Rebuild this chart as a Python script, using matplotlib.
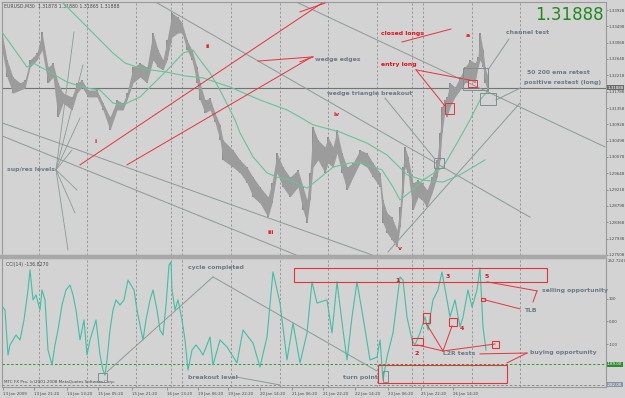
import matplotlib
matplotlib.use('Agg')
import matplotlib.pyplot as plt
from matplotlib.patches import Rectangle

# ---------------- data (bar index ~ 30-minute bars, price) ----------------
bar_x = [2, 7, 13, 20, 25, 30, 37, 42, 48, 53, 58, 63, 72, 77, 82, 88, 97, 103, 110, 117,
         123, 127, 133, 140, 147, 153, 158, 163, 167, 172, 178, 182, 187, 192, 197, 200, 205,
         210, 215, 220, 223, 233, 240, 247, 253, 260, 268, 272, 277, 283, 290, 298, 303, 307,
         310, 313, 318, 325, 328, 333, 337, 342, 347, 353, 360, 367, 373, 380, 383, 387, 392,
         397, 400, 403, 405, 408, 413, 418, 422, 427, 432, 437, 440, 442, 445, 447, 450, 455,
         460, 465, 470, 475, 478, 480, 483, 485, 488]
price_hi = [1.3333, 1.3262, 1.3217, 1.3202, 1.3209, 1.3262, 1.3280, 1.3335, 1.3243, 1.3254,
            1.3202, 1.3175, 1.3165, 1.3202, 1.3209, 1.3183, 1.3183, 1.3149, 1.3112, 1.3157,
            1.3149, 1.3175, 1.3243, 1.3254, 1.3243, 1.3333, 1.3288, 1.3262, 1.3314, 1.3385,
            1.3374, 1.3359, 1.3314, 1.3288, 1.3243, 1.3202, 1.3157, 1.3162, 1.3123, 1.3092,
            1.3052, 1.3026, 1.3000, 1.2981, 1.2955, 1.2929, 1.2903, 1.2940, 1.3018, 1.2981,
            1.2955, 1.2974, 1.2929, 1.2895, 1.2966, 1.3086, 1.3052, 1.3034, 1.3060, 1.3034,
            1.3078, 1.3018, 1.2981, 1.2992, 1.3026, 1.3018, 1.2992, 1.2966, 1.2895, 1.2861,
            1.2850, 1.2816, 1.2877, 1.2981, 1.3034, 1.3008, 1.2940, 1.2947, 1.2940, 1.2921,
            1.2955, 1.3000, 1.3071, 1.3139, 1.3157, 1.3165, 1.3202, 1.3191, 1.3217, 1.3243,
            1.3262, 1.3254, 1.3270, 1.3333, 1.3288, 1.3243, 1.3217]
price_lo = [1.3288, 1.3217, 1.3175, 1.3183, 1.3188, 1.3243, 1.3262, 1.3288, 1.3202, 1.3217,
            1.3112, 1.3149, 1.3131, 1.3175, 1.3191, 1.3165, 1.3165, 1.3131, 1.3078, 1.3131,
            1.3131, 1.3157, 1.3202, 1.3217, 1.3202, 1.3262, 1.3243, 1.3236, 1.3262, 1.3322,
            1.3333, 1.3333, 1.3288, 1.3262, 1.3202, 1.3157, 1.3123, 1.3131, 1.3099, 1.3052,
            1.3000, 1.2981, 1.2966, 1.2940, 1.2903, 1.2887, 1.2850, 1.2887, 1.2966, 1.2929,
            1.2903, 1.2929, 1.2869, 1.2835, 1.2895, 1.2981, 1.3000, 1.2966, 1.2992, 1.2981,
            1.3018, 1.2966, 1.2921, 1.2955, 1.2992, 1.2981, 1.2955, 1.2929, 1.2835, 1.2809,
            1.2790, 1.2772, 1.2824, 1.2913, 1.2981, 1.2966, 1.2869, 1.2903, 1.2895, 1.2877,
            1.2913, 1.2955, 1.3000, 1.3071, 1.3131, 1.3112, 1.3139, 1.3165, 1.3183, 1.3202,
            1.3209, 1.3202, 1.3243, 1.3262, 1.3243, 1.3202, 1.3178]

ema_fast_x = [2, 10, 27, 33, 50, 67, 87, 100, 113, 123, 140, 157, 170, 183, 193, 200, 210, 220,
              230, 235, 240, 253, 267, 277, 290, 307, 320, 333, 350, 363, 373, 382, 393, 400,
              410, 423, 443, 457, 470, 480, 487]
ema_fast = [1.3335, 1.3306, 1.3243, 1.3254, 1.3230, 1.3204, 1.3188, 1.3183, 1.3149, 1.3144,
            1.3165, 1.3209, 1.3243, 1.3280, 1.3288, 1.3262, 1.3228, 1.3183, 1.3131, 1.3105,
            1.3071, 1.3008, 1.2966, 1.2955, 1.2947, 1.2926, 1.2953, 1.2981, 1.2992, 1.2992,
            1.2981, 1.2974, 1.2929, 1.2895, 1.2916, 1.2947, 1.2981, 1.3044, 1.3105, 1.3157,
            1.3178]
ema_slow_x = [62, 80, 100, 113, 125, 137, 150, 167, 185, 203, 230, 260, 287, 300, 313, 340,
              367, 387, 407, 423, 443, 460, 485]
ema_slow = [1.3414, 1.3367, 1.3314, 1.3280, 1.3254, 1.3243, 1.3236, 1.3230, 1.3220, 1.3215,
            1.3191, 1.3157, 1.3131, 1.3112, 1.3092, 1.3073, 1.3044, 1.3013, 1.2961, 1.2947,
            1.2942, 1.2961, 1.3000]

cci_x = [2, 5, 8, 10, 13, 16, 20, 24, 28, 30, 33, 36, 40, 42, 45, 48, 52, 55, 58, 62, 66, 70,
         73, 76, 80, 84, 87, 90, 93, 96, 100, 103, 105, 107, 110, 113, 116, 120, 124, 128, 131,
         134, 137, 140, 143, 146, 150, 153, 157, 160, 163, 166, 169, 171, 172, 175, 178, 182,
         185, 188, 192, 196, 200, 203, 210, 213, 220, 227, 237, 243, 253, 260, 267, 273, 280,
         287, 293, 300, 307, 312, 317, 327, 332, 337, 343, 347, 352, 357, 363, 370, 377, 380,
         383, 387, 393, 400, 403, 407, 412, 415, 420, 425, 428, 433, 438, 442, 447, 450, 455,
         460, 463, 468, 472, 477, 480, 483, 486]
cci_vals = [69, 51, -149, -104, -82, -60, -82, 7, 140, 229, 96, 118, 51, 140, 96, -127, -193,
            -104, -38, 73, 140, 162, 118, 51, -82, 7, -149, -82, -38, 7, -149, -216, -238, -171,
            -38, 51, 96, 73, 96, 184, 162, 140, 51, -16, -82, 7, 96, 140, 51, -38, -60, 73, 251,
            264, 140, 51, 96, 7, -82, -216, -127, -104, -127, -149, -69, -193, -82, -113, -184,
            -38, -96, -202, -69, 220, 82, -171, -7, -184, -51, 176, 82, 96, -51, 176, -38, -171,
            20, 176, 20, -171, -158, -82, -260, -158, -51, 198, 184, 20, -82, -104, -51, 20, -38,
            96, 140, 220, 96, 20, 96, -24, 20, 140, 64, 140, 238, -24, -127]

price_ticks = [1.33928, 1.33498, 1.33068, 1.32648, 1.32218, 1.31788, 1.31358, 1.30928,
               1.30498, 1.30078, 1.29648, 1.29218, 1.28798, 1.28368, 1.27938, 1.27508]
bid_price = 1.31888
cci_ticks = [100, 0, -100]
cci_tick_labels = ['100', '0.00', '-100']
cci_levels = [-189, -282]

time_pos = [3, 34, 67, 98, 132, 167, 198, 228, 260, 292, 323, 355, 388, 421, 453]
time_labels = ['13 Jan 2009', '13 Jan 21:20', '14 Jan 13:20', '15 Jan 05:20', '15 Jan 21:20',
               '16 Jan 13:20', '19 Jan 06:20', '19 Jan 22:20', '20 Jan 14:20', '21 Jan 06:20',
               '21 Jan 22:20', '22 Jan 14:20', '23 Jan 06:20', '25 Jan 22:20', '26 Jan 14:20']
day_separators = [39, 87, 136, 171, 182, 231, 280, 328, 377, 412, 423, 472, 520]

# user-drawn objects (bar, price)
gray_trendlines = [((152, 1.3419), (530, 1.2850)), ((292, 1.3419), (605, 1.3034)),
                   ((0, 1.3099), (372, 1.2751)), ((0, 1.3065), (296, 1.2751)),
                   ((388, 1.2759), (520, 1.3149)),
                   ((385, 1.3162), (434, 1.3005)), ((509, 1.3317), (488, 1.3236)),
                   ((496, 1.3157), (520, 1.3188))]
supres_origin = (56, 1.2974)
supres_targets = [(74, 1.3335), (83, 1.3249), (80, 1.3110), (72, 1.3026), (77, 1.2921),
                  (75, 1.2861), (68, 1.2764)]
red_trendlines = [((80, 1.2987), (322, 1.3411)), ((127, 1.2987), (312, 1.3270)),
                  ((258, 1.3259), (313, 1.3270)), ((300, 1.3257), (313, 1.3270)),
                  ((300, 1.3388), (325, 1.3411)),
                  ((402, 1.3309), (451, 1.3343)),
                  ((416, 1.3236), (470, 1.3209)), ((416, 1.3236), (445, 1.3141))]
red_boxes = [((445, 1.3120), (454, 1.3149)), ((468, 1.3191), (477, 1.3209))]
gray_boxes = [((463, 1.3183), (488, 1.3241)), ((480, 1.3144), (496, 1.3175)),
              ((434, 1.2979), (444, 1.3005))]
wave_labels = [('i', 96, 1.3047), ('ii', 208, 1.3296), ('iii', 271, 1.2811),
               ('iv', 337, 1.3118), ('v', 400, 1.2767), ('a', 468, 1.3325)]
red_notes = [('closed longs', 381, 1.3330), ('entry long', 381, 1.3251)]
gray_notes = [('wedge edges', 315, 1.3264), ('wedge triangle breakout', 327, 1.3175),
              ('sup/res levels', 7, 1.2976), ('channel test', 506, 1.3333),
              ('50 200 ema retest', 527, 1.3228), ('positive restest (long)', 524, 1.3204)]

cci_red_boxes = [((294, 176), (547, 238)), ((378, -273), (507, -193)),
                 ((412, -104), (423, -73)), ((423, -7), (430, 38)), ((449, -20), (457, 16)),
                 ((492, -118), (499, -87)), ((481, 91), (485, 104))]
cci_red_lines = [((443, -131), (417, -104)), ((443, -131), (426, -7)),
                 ((443, -131), (452, -20)), ((443, -131), (495, -100)),
                 ((485, 96), (520, 56)), ((487, 176), (537, 136)), ((537, 136), (533, 87)),
                 ((480, -144), (527, -140)), ((507, -184), (527, -140))]
cci_red_labels = [('1', 398, 180), ('3', 448, 198), ('5', 487, 198), ('2', 417, -144),
                  ('4', 462, -33)]
cci_gray_lines = [((107, -224), (213, 198)), ((213, 198), (377, -220)),
                  ((237, -247), (280, -282))]
cci_gray_boxes = [((98, -269), (107, -229)), ((383, -269), (388, -220))]
cci_gray_notes = [('cycle completed', 188, 238), ('breakout level', 188, -251),
                  ('turn point', 343, -247), ('L2R tests', 443, -144), ('TLB', 525, 51),
                  ('selling opportunity', 542, 136), ('buying opportunity', 530, -136)]

# ---------------- drawing ----------------
W, H = 625, 398
BG = '#d3d3d3'
GRID = '#8c8c8c'
LINE_GRAY = '#8b9b98'
NOTE_GRAY = '#6c7a88'
RED = '#e8323a'
TXT = '#4a4a4a'
SMALL = 2.9

fig = plt.figure(figsize=(W / 100, H / 100), dpi=100, facecolor=BG)


def frac(x0, y0, x1, y1):
    return [x0 / W, 1 - y1 / H, (x1 - x0) / W, (y1 - y0) / H]


ax = fig.add_axes(frac(2, 2, 606, 255))
ax2 = fig.add_axes(frac(2, 258, 606, 387))
for a in (ax, ax2):
    a.set_facecolor(BG)
    a.set_xlim(2, 606)
    for s in a.spines.values():
        s.set_color('#9a9a9a')
        s.set_linewidth(0.8)
    for x in day_separators:
        a.axvline(x, color=GRID, lw=0.6, ls=(0, (2.5, 2.5)), zorder=1)

ax.set_ylim(1.27509, 1.34138)
ax2.set_ylim(-291, 282)

fig.patches.append(Rectangle((0, 1 - 258 / H), 606 / W, 3 / H, transform=fig.transFigure,
                             color='#a8a8a8', zorder=0))

ax.yaxis.tick_right()
ax.set_yticks(price_ticks)
ax.set_yticklabels([f'{p:.5f}' for p in price_ticks], fontsize=SMALL, color=TXT)
ax.tick_params(axis='y', length=1.5, width=0.5, pad=0.5, colors='#777777', labelcolor=TXT)
ax.set_xticks([])

ax2.yaxis.tick_right()
ax2.set_yticks(cci_ticks)
ax2.set_yticklabels(cci_tick_labels, fontsize=SMALL, color=TXT)
ax2.tick_params(axis='y', length=1.5, width=0.5, pad=0.5, colors='#777777', labelcolor=TXT)
ax2.set_xticks(time_pos)
ax2.set_xticklabels(time_labels, fontsize=SMALL, color=TXT, ha='left')
ax2.tick_params(axis='x', length=2, width=0.5, pad=1.5, colors='#777777', labelcolor=TXT)

# price bars
ax.vlines(bar_x, price_lo, price_hi, color='#8e8e8e', lw=1.4, zorder=3)
ax.fill_between(bar_x, price_lo, price_hi, color='#9c9c9c', lw=0, zorder=3)

# EMAs
ax.plot(ema_fast_x, ema_fast, color='#68c39a', lw=0.8, zorder=4)
ax.plot(ema_slow_x, ema_slow, color='#68c39a', lw=0.8, zorder=4)

ax.axhline(bid_price, color='#6f7775', lw=0.8, zorder=2)

for (x0, y0), (x1, y1) in gray_trendlines:
    ax.plot([x0, x1], [y0, y1], color=LINE_GRAY, lw=0.7, zorder=2)
for tx, ty in supres_targets:
    ax.plot([supres_origin[0], tx], [supres_origin[1], ty], color=LINE_GRAY, lw=0.6, zorder=2)
for (x0, y0), (x1, y1) in red_trendlines:
    ax.plot([x0, x1], [y0, y1], color=RED, lw=0.7, zorder=5)
for (x0, y0), (x1, y1) in red_boxes:
    ax.add_patch(Rectangle((x0, y0), x1 - x0, y1 - y0, fill=False, ec=RED, lw=0.7, zorder=6))
for (x0, y0), (x1, y1) in gray_boxes:
    ax.add_patch(Rectangle((x0, y0), x1 - x0, y1 - y0, fill=False, ec='#7f8f8f', lw=0.7, zorder=6))

for t, x, y in wave_labels:
    ax.text(x, y, t, color='#e0141c', fontsize=4.5, fontweight='bold', ha='center', va='center', zorder=7)
for t, x, y in red_notes:
    ax.text(x, y, t, color='#e0141c', fontsize=4.4, fontweight='bold', ha='left', va='center', zorder=7)
for t, x, y in gray_notes:
    ax.text(x, y, t, color=NOTE_GRAY, fontsize=4.4, fontweight='bold', ha='left', va='center', zorder=7)

ax.text(0.004, 0.992, 'EURUSD,M30  1.31878 1.31880 1.31865 1.31888', transform=ax.transAxes,
        fontsize=3.3, color=TXT, va='top', ha='left')
ax.text(0.997, 0.985, '1.31888', transform=ax.transAxes, fontsize=12, color='#1e8a1e',
        va='top', ha='right')
ax.text(1.002, bid_price, '1.31888', transform=ax.get_yaxis_transform(), fontsize=SMALL,
        color='white', va='center', ha='left',
        bbox=dict(boxstyle='square,pad=0.12', fc='#6a6a6a', ec='none'))

# CCI panel
ax2.plot(cci_x, cci_vals, color='#3fc0a6', lw=0.8, zorder=4)
ax2.axhline(cci_levels[0], color='#2e9a2e', lw=0.7, ls=(0, (2.5, 2)), zorder=2)
ax2.axhline(cci_levels[1], color='#8c8c8c', lw=0.7, ls=(0, (2.5, 2)), zorder=2)
for (x0, y0), (x1, y1) in cci_red_boxes:
    ax2.add_patch(Rectangle((x0, y0), x1 - x0, y1 - y0, fill=False, ec=RED, lw=0.8, zorder=6))
for (x0, y0), (x1, y1) in cci_red_lines:
    ax2.plot([x0, x1], [y0, y1], color=RED, lw=0.7, zorder=5)
for t, x, y in cci_red_labels:
    ax2.text(x, y, t, color='#e0141c', fontsize=4.5, fontweight='bold', ha='center', va='center', zorder=7)
for (x0, y0), (x1, y1) in cci_gray_lines:
    ax2.plot([x0, x1], [y0, y1], color=LINE_GRAY, lw=0.7, zorder=2)
for (x0, y0), (x1, y1) in cci_gray_boxes:
    ax2.add_patch(Rectangle((x0, y0), x1 - x0, y1 - y0, fill=False, ec='#7f8f8f', lw=0.7, zorder=6))
for t, x, y in cci_gray_notes:
    ax2.text(x, y, t, color=NOTE_GRAY, fontsize=4.4, fontweight='bold', ha='left', va='center', zorder=7)

ax2.text(0.006, 0.97, 'CCI(14) -136.8270', transform=ax2.transAxes, fontsize=3.3,
         color=TXT, va='top', ha='left')
ax2.text(0.004, 0.02, 'MTC FX Pro; (c)2001-2008 MetaQuotes Software Corp.',
         transform=ax2.transAxes, fontsize=3.0, color=TXT, va='bottom', ha='left')
ax2.text(1.002, 0.975, '252.7247', transform=ax2.transAxes, fontsize=SMALL, color=TXT,
         va='center', ha='left')
ax2.text(1.002, cci_levels[0], '-189.00', transform=ax2.get_yaxis_transform(), fontsize=SMALL,
         color='white', va='center', ha='left',
         bbox=dict(boxstyle='square,pad=0.12', fc='#2e8b2e', ec='none'))
ax2.text(1.002, cci_levels[1], '-282.00', transform=ax2.get_yaxis_transform(), fontsize=SMALL,
         color='white', va='center', ha='left',
         bbox=dict(boxstyle='square,pad=0.12', fc='#8a96a8', ec='none'))

fig.savefig('out.png', dpi=100, facecolor=BG)
